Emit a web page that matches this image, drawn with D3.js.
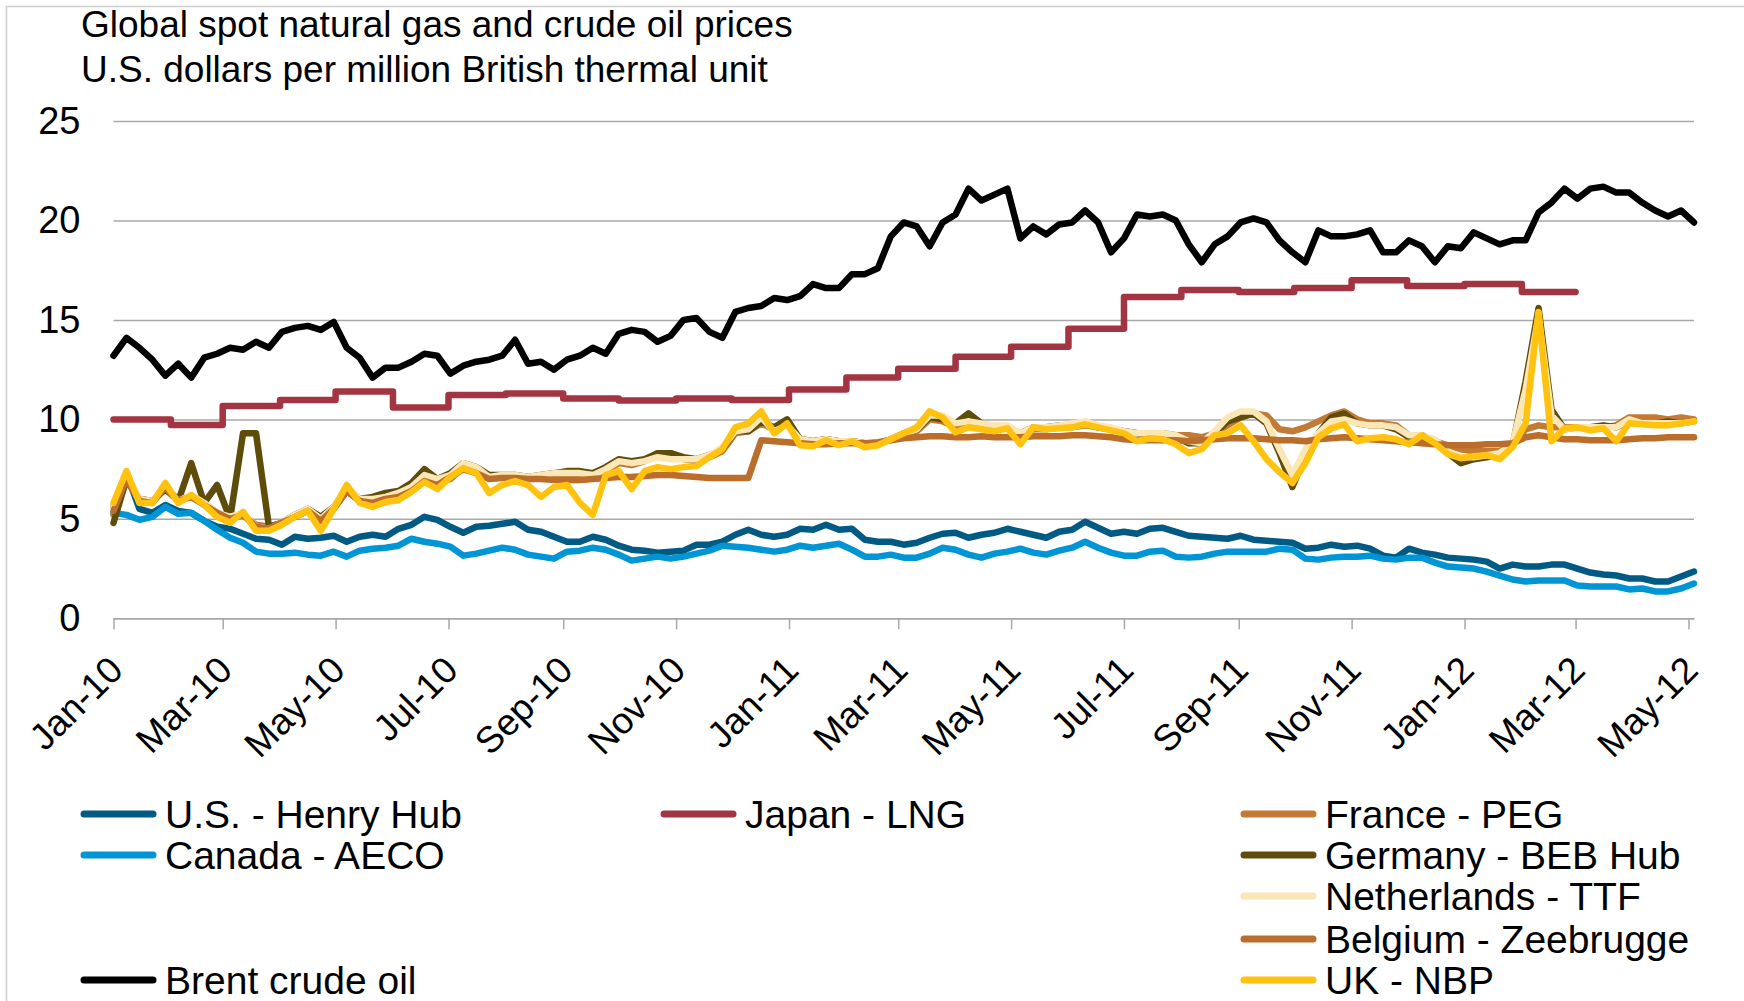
<!DOCTYPE html>
<html lang="en">
<head>
<meta charset="UTF-8">
<title>Global spot natural gas and crude oil prices</title>
<script src="https://d3js.org/d3.v7.min.js"></script>
<style>
  body { margin: 0; background: #fff; }
  svg { display: block; font-family: "Liberation Sans", Arial, sans-serif; }
  .grid line { stroke: #a8a8a8; stroke-width: 1.5px; }
  .x-axis path, .x-axis line { stroke: #a8a8a8; stroke-width: 1.5px; }
  .series { fill: none; stroke-width: 6.5px; stroke-linejoin: round; stroke-linecap: round; }
</style>
</head>
<body>
<div id="chart"></div>
<script>
// x axis ticks and y axis ticks
const tickLabels = ["Jan-10", "Mar-10", "May-10", "Jul-10", "Sep-10", "Nov-10", "Jan-11", "Mar-11",
  "May-11", "Jul-11", "Sep-11", "Nov-11", "Jan-12", "Mar-12", "May-12"];
const yTicks = [0, 5, 10, 15, 20, 25];

// weekly readings, one value per week starting 1 Jan 2010
const henryHub = [
  5.6, 7.3, 5.5, 5.3, 5.7, 5.4, 5.3, 4.9, 4.6, 4.5,
  4.25, 4.0, 3.95, 3.7, 4.1, 4.0, 4.05, 4.15, 3.85, 4.1,
  4.2, 4.1, 4.5, 4.7, 5.1, 4.95, 4.6, 4.3, 4.6, 4.65,
  4.75, 4.85, 4.45, 4.35, 4.1, 3.85, 3.85, 4.1, 3.95, 3.65,
  3.45, 3.4, 3.3, 3.35, 3.4, 3.7, 3.7, 3.85, 4.2, 4.45,
  4.2, 4.1, 4.2, 4.5, 4.45, 4.7, 4.45, 4.5, 3.95, 3.85,
  3.85, 3.7, 3.8, 4.05, 4.25, 4.3, 4.05, 4.2, 4.3, 4.5,
  4.35, 4.2, 4.05, 4.35, 4.45, 4.85, 4.55, 4.25, 4.35, 4.25,
  4.5, 4.55, 4.35, 4.15, 4.1, 4.05, 4.0, 4.15, 3.95, 3.9,
  3.85, 3.8, 3.5, 3.55, 3.7, 3.6, 3.65, 3.5, 3.15, 3.05,
  3.5, 3.3, 3.2, 3.05, 3.0, 2.95, 2.85, 2.5, 2.7, 2.6,
  2.6, 2.7, 2.7, 2.5, 2.3, 2.2, 2.15, 2.0, 2.0, 1.85,
  1.85, 2.1, 2.35
];
const canadaAeco = [
  5.3, 5.2, 4.95, 5.1, 5.6, 5.25, 5.3, 4.9, 4.45, 4.05,
  3.8, 3.35, 3.25, 3.25, 3.3, 3.2, 3.15, 3.35, 3.1, 3.4,
  3.5, 3.55, 3.65, 4.0, 3.85, 3.75, 3.6, 3.15, 3.25, 3.4,
  3.55, 3.45, 3.2, 3.1, 3.0, 3.35, 3.4, 3.55, 3.45, 3.2,
  2.9, 3.0, 3.1, 3.0, 3.1, 3.25, 3.4, 3.65, 3.6, 3.55,
  3.45, 3.35, 3.45, 3.65, 3.55, 3.65, 3.75, 3.45, 3.1, 3.1,
  3.2, 3.05, 3.05, 3.25, 3.55, 3.45, 3.2, 3.05, 3.25, 3.35,
  3.5, 3.3, 3.2, 3.4, 3.55, 3.85, 3.55, 3.3, 3.15, 3.15,
  3.35, 3.4, 3.1, 3.05, 3.1, 3.25, 3.35, 3.35, 3.35, 3.35,
  3.5, 3.45, 3.0, 2.95, 3.05, 3.1, 3.1, 3.15, 3.0, 2.95,
  3.05, 3.05, 2.8, 2.6, 2.55, 2.5, 2.35, 2.15, 1.95, 1.85,
  1.9, 1.9, 1.9, 1.65, 1.6, 1.6, 1.6, 1.45, 1.5, 1.35,
  1.35, 1.5, 1.75
];
const francePeg = [
  5.2, 6.9, 6.0, 5.9, 6.5, 6.0, 6.1, 5.8, 5.3, 5.1,
  5.2, 4.7, 4.6, 4.8, 5.1, 5.4, 5.0, 5.5, 6.4, 5.9,
  5.9, 6.0, 6.2, 6.5, 7.0, 6.9, 7.0, 7.6, 7.4, 7.1,
  7.1, 7.1, 7.0, 7.1, 7.2, 7.2, 7.2, 7.1, 7.4, 7.8,
  7.7, 7.9, 8.3, 8.3, 8.0, 7.9, 8.1, 8.4, 9.3, 9.4,
  9.8, 9.5, 9.8, 9.0, 8.9, 9.0, 8.9, 8.9, 8.8, 8.8,
  9.0, 9.2, 9.4, 10.0, 9.9, 9.6, 9.7, 9.7, 9.6, 9.6,
  9.3, 9.5, 9.5, 9.6, 9.6, 9.7, 9.6, 9.5, 9.4, 9.3,
  9.3, 9.3, 9.2, 9.2, 9.1, 9.3, 9.7, 10.1, 10.3, 10.2,
  9.5, 9.4, 9.6, 9.9, 10.2, 10.4, 10.0, 9.8, 9.8, 9.7,
  9.2, 9.1, 8.9, 8.7, 8.5, 8.4, 8.4, 8.4, 8.7, 9.5,
  9.7, 9.6, 9.6, 9.6, 9.6, 9.6, 9.7, 10.1, 10.1, 10.1,
  10.0, 10.1, 10.0
];
const germanyBeb = [
  4.8, 7.0, 6.0, 5.9, 6.5, 5.9, 7.8, 5.8, 6.7, 5.0,
  9.3, 9.3, 4.6, 4.8, 5.2, 5.5, 5.1, 5.6, 6.5, 6.0,
  6.1, 6.3, 6.4, 6.8, 7.5, 7.0, 7.3, 7.8, 7.6, 7.2,
  7.2, 7.2, 7.1, 7.2, 7.3, 7.4, 7.4, 7.3, 7.6, 8.0,
  7.9, 8.0, 8.3, 8.3, 8.1, 8.0, 8.2, 8.5, 9.4, 9.4,
  9.9, 9.6, 10.0, 9.0, 8.9, 9.0, 8.9, 8.9, 8.8, 8.8,
  9.0, 9.3, 9.5, 10.1, 10.0, 9.8, 10.3, 9.8, 9.6, 9.6,
  9.3, 9.6, 9.6, 9.7, 9.7, 9.8, 9.6, 9.5, 9.4, 9.3,
  9.2, 9.2, 9.1, 8.8, 8.8, 9.3, 9.9, 10.1, 10.3, 9.8,
  8.3, 6.6, 8.2, 9.3, 10.1, 10.3, 9.8, 9.7, 9.7, 9.5,
  9.1, 9.2, 8.9, 8.3, 7.8, 8.0, 8.1, 8.2, 8.7, 11.9,
  15.6, 10.5, 9.5, 9.6, 9.6, 9.7, 9.6, 9.9, 9.8, 9.8,
  9.9, 9.8, 9.9
];
const netherlandsTtf = [
  5.6, 7.2, 6.0, 5.9, 6.6, 5.9, 6.2, 5.8, 5.3, 5.1,
  5.3, 4.6, 4.5, 4.8, 5.2, 5.5, 5.0, 5.6, 6.6, 6.0,
  6.0, 6.1, 6.3, 6.6, 7.2, 7.0, 7.2, 7.8, 7.6, 7.1,
  7.2, 7.2, 7.1, 7.2, 7.3, 7.3, 7.3, 7.2, 7.5, 7.9,
  7.8, 7.9, 8.1, 8.0, 8.0, 8.0, 8.2, 8.6, 9.4, 9.5,
  10.1, 9.4, 9.7, 9.0, 8.9, 9.0, 8.9, 8.9, 8.8, 8.8,
  9.0, 9.3, 9.5, 10.2, 10.2, 9.8, 9.9, 9.8, 9.7, 9.7,
  9.3, 9.6, 9.6, 9.7, 9.8, 9.9, 9.7, 9.6, 9.4, 9.3,
  9.3, 9.3, 9.2, 8.9, 8.8, 9.4, 10.1, 10.4, 10.4, 9.9,
  8.5, 7.2, 8.5, 9.3, 9.9, 10.0, 9.8, 9.7, 9.7, 9.6,
  9.2, 9.2, 9.0, 8.4, 8.1, 8.1, 8.2, 8.3, 8.8, 11.5,
  15.2, 10.2, 9.5, 9.6, 9.6, 9.6, 9.6, 10.0, 9.8, 9.8,
  9.8, 9.8, 9.9
];
const belgiumZeebrugge = [
  5.4, 7.0, 5.9, 5.8, 6.6, 5.9, 6.1, 5.7, 5.3, 5.0,
  5.2, 4.6, 4.5, 4.8, 5.1, 5.4, 4.9, 5.5, 6.4, 5.9,
  5.8, 6.0, 6.1, 6.4, 6.9, 6.7, 7.1, 7.5, 7.3, 7.0,
  7.05, 7.05, 7.0, 7.0, 6.95, 6.95, 6.95, 7.0, 7.05, 7.1,
  7.1, 7.15, 7.2, 7.2, 7.15, 7.1, 7.05, 7.05, 7.05, 7.05,
  8.95, 8.9, 8.85, 8.8, 8.75, 8.75, 8.8, 8.8, 8.8, 8.85,
  8.95, 9.05, 9.1, 9.15, 9.15, 9.1, 9.1, 9.15, 9.1, 9.1,
  9.1, 9.15, 9.15, 9.15, 9.2, 9.2, 9.15, 9.1, 9.0, 8.95,
  8.95, 8.95, 8.95, 8.9, 8.95, 9.0, 9.05, 9.05, 9.05, 9.0,
  8.95, 8.95, 8.9, 9.0, 9.05, 9.1, 9.05, 9.0, 8.95, 8.9,
  8.85, 8.8, 8.75, 8.7, 8.7, 8.7, 8.75, 8.75, 8.8, 9.1,
  9.2, 9.1, 9.0, 9.0, 8.95, 8.95, 8.95, 9.0, 9.05, 9.05,
  9.1, 9.1, 9.1
];
const ukNbp = [
  5.8, 7.4, 5.8, 5.8, 6.8, 5.8, 6.2, 5.7, 5.1, 4.8,
  5.35, 4.4, 4.4, 4.7, 5.1, 5.4, 4.4, 5.5, 6.7, 5.8,
  5.6, 5.85, 5.95, 6.35, 6.85, 6.5, 7.1, 7.55, 7.3, 6.3,
  6.7, 6.9, 6.7, 6.1, 6.6, 6.7, 5.8, 5.2, 7.2, 7.4,
  6.5, 7.4, 7.6, 7.5, 7.6, 7.65, 8.1, 8.5, 9.6, 9.8,
  10.4, 9.3, 9.8, 8.7, 8.65, 8.95, 8.7, 8.9, 8.6, 8.7,
  9.0, 9.3, 9.6, 10.4, 10.1, 9.35, 9.6, 9.5, 9.4, 9.55,
  8.75, 9.6, 9.5, 9.55, 9.6, 9.75, 9.6, 9.45, 9.3, 8.9,
  9.05, 9.0, 8.75, 8.3, 8.5, 9.2, 9.3, 9.7, 8.9, 8.0,
  7.35, 6.8, 7.8, 9.1, 9.55, 9.75, 8.9, 9.05, 9.1, 9.0,
  8.75, 9.2, 8.8, 8.25, 8.05, 8.15, 8.2, 8.0, 8.6, 9.8,
  15.4, 8.9, 9.55, 9.6, 9.45, 9.55, 8.9, 9.8, 9.75, 9.7,
  9.7, 9.8, 9.9
];
const brentCrude = [
  13.2, 14.1, 13.6, 13.0, 12.2, 12.8, 12.1, 13.1, 13.3, 13.6,
  13.5, 13.9, 13.6, 14.4, 14.6, 14.7, 14.5, 14.9, 13.6, 13.1,
  12.1, 12.6, 12.6, 12.9, 13.3, 13.2, 12.3, 12.7, 12.9, 13.0,
  13.2, 14.0, 12.8, 12.9, 12.5, 13.0, 13.2, 13.6, 13.3, 14.3,
  14.5, 14.4, 13.9, 14.2, 15.0, 15.1, 14.4, 14.1, 15.4, 15.6,
  15.7, 16.1, 16.0, 16.2, 16.8, 16.6, 16.6, 17.3, 17.3, 17.6,
  19.2, 19.9, 19.7, 18.7, 19.9, 20.3, 21.6, 21.0, 21.3, 21.6,
  19.1, 19.7, 19.3, 19.8, 19.9, 20.5, 19.9, 18.4, 19.1, 20.3,
  20.2, 20.3, 20.0, 18.8, 17.9, 18.8, 19.2, 19.9, 20.1, 19.9,
  19.0, 18.4, 17.9, 19.5, 19.2, 19.2, 19.3, 19.5, 18.4, 18.4,
  19.0, 18.7, 17.9, 18.7, 18.6, 19.4, 19.1, 18.8, 19.0, 19.0,
  20.4, 20.9, 21.6, 21.1, 21.6, 21.7, 21.4, 21.4, 20.9, 20.5,
  20.2, 20.5, 19.9
];

// Japan LNG is a monthly price
const japanMonths = ["Jan-10", "Feb-10", "Mar-10", "Apr-10", "May-10", "Jun-10", "Jul-10", "Aug-10",
  "Sep-10", "Oct-10", "Nov-10", "Dec-10", "Jan-11", "Feb-11", "Mar-11", "Apr-11", "May-11", "Jun-11",
  "Jul-11", "Aug-11", "Sep-11", "Oct-11", "Nov-11", "Dec-11", "Jan-12", "Feb-12", "Mar-12"];
const japanLng = [10.0, 9.72, 10.67, 10.97, 11.4, 10.6, 11.22, 11.3, 11.05, 10.95, 11.05, 10.97,
  11.5, 12.1, 12.55, 13.15, 13.65, 14.55, 16.15, 16.5, 16.4, 16.6, 17.0, 16.7,
  16.8, 16.4, 16.4];

const parseMonth = d3.timeParse("%b-%y");
const weeks = d3.timeDay.range(new Date(2010, 0, 1), new Date(2012, 4, 5), 7);

// drawing order follows the original workbook
const series = [
  { name: "U.S. - Henry Hub", values: henryHub, color: "#005a84" },
  { name: "Canada - AECO", values: canadaAeco, color: "#0096d6" },
  { name: "Japan - LNG", values: japanLng, months: japanMonths, color: "#a33442", step: true },
  { name: "France - PEG", values: francePeg, color: "#c27a35" },
  { name: "Germany - BEB Hub", values: germanyBeb, color: "#5e4c0a" },
  { name: "Netherlands - TTF", values: netherlandsTtf, color: "#fbe6b5" },
  { name: "Belgium - Zeebrugge", values: belgiumZeebrugge, color: "#bb6e2b" },
  { name: "UK - NBP", values: ukNbp, color: "#ffc20e" },
  { name: "Brent crude oil", values: brentCrude, color: "#000000" }
];

// legend is laid out in three columns, [column, row]
const legendSlots = [[0, 0], [0, 1], [1, 0], [2, 0], [2, 1], [2, 2], [2, 3], [2, 4], [0, 4]];
const legendColX = [80, 660, 1240];
const legendRowY = [814, 855, 896, 939, 980];

const W = 1744, H = 1001;
const plot = { left: 113.5, right: 1694, top: 121, bottom: 618.3 };

const svg = d3.select("#chart").append("svg")
    .attr("width", W)
    .attr("height", H);

svg.append("rect")
    .attr("x", 6.5).attr("y", 6.5)
    .attr("width", W + 20).attr("height", H + 20)
    .attr("fill", "none")
    .attr("stroke", "#cfcfcf")
    .attr("stroke-width", 1.5);

const x = d3.scaleTime()
    .domain([new Date(2010, 0, 1), new Date(2012, 4, 4)])
    .range([plot.left, plot.right]);

const y = d3.scaleLinear()
    .domain([0, 25])
    .range([plot.bottom, plot.top]);

// title
svg.append("text")
    .attr("x", 81).attr("y", 37)
    .style("font-size", "37px")
    .text("Global spot natural gas and crude oil prices");
svg.append("text")
    .attr("x", 81).attr("y", 82)
    .style("font-size", "37px")
    .text("U.S. dollars per million British thermal unit");

// gridlines and y labels
const yAxis = svg.append("g")
    .attr("class", "grid")
    .attr("transform", `translate(${plot.left},0)`)
    .call(d3.axisLeft(y).tickValues(yTicks).tickSize(-(plot.right - plot.left)).tickPadding(33));
yAxis.select(".domain").remove();
yAxis.selectAll("text")
    .attr("fill", "#000")
    .style("font-size", "38px")
    .style("font-family", "'Liberation Sans', Arial, sans-serif");

// x axis
const xAxis = svg.append("g")
    .attr("class", "x-axis")
    .attr("transform", `translate(0,${plot.bottom})`)
    .call(d3.axisBottom(x)
        .tickValues(tickLabels.map(parseMonth))
        .tickSize(11)
        .tickSizeOuter(0)
        .tickFormat((d, i) => tickLabels[i]));
xAxis.selectAll("text")
    .attr("x", 0)
    .attr("y", 0)
    .attr("dy", null)
    .attr("fill", "#000")
    .attr("text-anchor", "end")
    .attr("transform", "translate(11,54) rotate(-45)")
    .style("font-size", "37px")
    .style("font-family", "'Liberation Sans', Arial, sans-serif");

// series lines
const weeklyLine = d3.line()
    .defined(d => d[1] != null)
    .x(d => x(d[0]))
    .y(d => y(d[1]));
const stepLine = d3.line()
    .curve(d3.curveStepAfter)
    .x(d => x(d[0]))
    .y(d => y(d[1]));

svg.append("g")
    .selectAll("path")
    .data(series)
    .enter().append("path")
      .attr("class", "series")
      .attr("stroke", d => d.color)
      .attr("d", d => d.step
          ? stepLine(d.values.map((v, i) => [parseMonth(d.months[i]), v]))
          : weeklyLine(d.values.map((v, i) => [weeks[i], v])));

// legend
const legend = svg.append("g")
    .selectAll("g")
    .data(series)
    .enter().append("g")
      .attr("transform", (d, i) => `translate(${legendColX[legendSlots[i][0]]},${legendRowY[legendSlots[i][1]]})`);

legend.append("line")
    .attr("x1", 4).attr("x2", 73)
    .attr("y1", 0).attr("y2", 0)
    .attr("stroke", d => d.color)
    .attr("stroke-width", 7)
    .attr("stroke-linecap", "round");

legend.append("text")
    .attr("x", 85)
    .attr("y", 14)
    .style("font-size", "39px")
    .text(d => d.name);
</script>
</body>
</html>
